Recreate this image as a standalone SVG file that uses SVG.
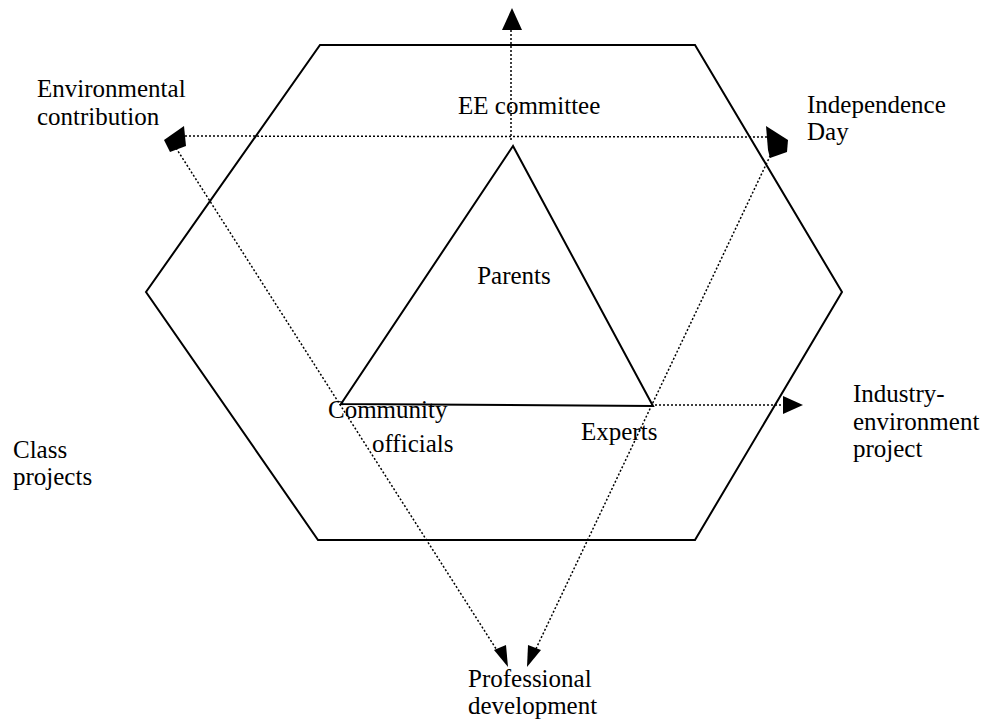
<svg xmlns="http://www.w3.org/2000/svg" width="1000" height="723" viewBox="0 0 1000 723">
<style>
.s{fill:none;stroke:#000;stroke-width:2}
.d{fill:none;stroke:#000;stroke-width:1.5;stroke-dasharray:2 2}
.a{fill:#000}
text{font-family:"Liberation Serif",serif;font-size:25px;fill:#000}
</style>
<rect width="1000" height="723" fill="#fff"/>
<g id="hexagon"><polygon class="s" points="320,45 695,45 842,292 695,540 318,540 146,292"/></g>
<g id="triangle"><polygon class="s" points="513,146 341,404 653,406"/></g>
<g id="connectors">
<line class="d" x1="511" y1="140" x2="511" y2="28"/>
<polygon class="a" points="512,8 502,30 522,30"/>
<line class="d" x1="185" y1="136" x2="768" y2="137"/>
<polygon class="a" points="164,140 184,126 186,146 170,152"/>
<polygon class="a" points="788,140 766,126 768,150 770,158 787,152"/>
<line class="d" x1="176" y1="148" x2="500" y2="655"/>
<polygon class="a" points="508,667 494,650 506,645"/>
<line class="d" x1="772" y1="152" x2="533" y2="655"/>
<polygon class="a" points="527,667 528,645 541,650"/>
<line class="d" x1="655" y1="405" x2="783" y2="405"/>
<polygon class="a" points="803,405 783,396 783,414"/>
</g>
<g id="labels">
<text x="37" y="97">Environmental</text>
<text x="37" y="125">contribution</text>
<text x="458" y="114">EE committee</text>
<text x="807" y="113">Independence</text>
<text x="807" y="140">Day</text>
<text x="514" y="284" text-anchor="middle">Parents</text>
<text x="328" y="418">Community</text>
<text x="372" y="452">officials</text>
<text x="581" y="440">Experts</text>
<text x="853" y="402">Industry-</text>
<text x="853" y="430">environment</text>
<text x="853" y="457">project</text>
<text x="13" y="458">Class</text>
<text x="13" y="485">projects</text>
<text x="468" y="687">Professional</text>
<text x="468" y="714">development</text>
</g>
</svg>
